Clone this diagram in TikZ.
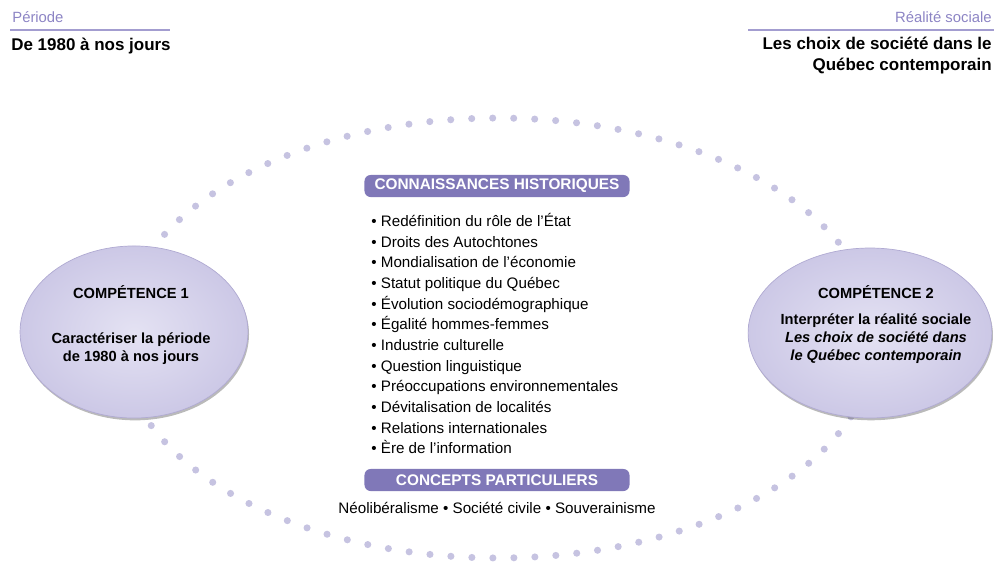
\documentclass[tikz,border=0pt]{standalone}
\usepackage{fontspec}
\setmainfont{Liberation Sans}
\usetikzlibrary{shapes.geometric, shadows}
\definecolor{barpurple}{RGB}{128,120,184}
\definecolor{dotlilac}{RGB}{198,195,225}
\definecolor{headlilac}{RGB}{140,132,196}
\definecolor{ellin}{RGB}{228,226,243}
\definecolor{ellout}{RGB}{204,200,230}
\definecolor{ellrim}{RGB}{176,170,210}

\begin{document}
\begin{tikzpicture}[x=0.566pt, y=-0.566pt]

\tikzset{comp/.style = {shape=ellipse, inner sep=0pt, shading=radial, inner color=ellin, outer color=ellout, draw=ellrim, line width=0.4pt, drop shadow={shadow xshift=0.6pt, shadow yshift=-1.3pt, opacity=0.45, fill=black!60}}}
\tikzset{bar/.style = {rounded corners=3.5pt, fill=barpurple, text=white, font=\fontsize{8.7}{10}\selectfont\bfseries, minimum width=150pt, minimum height=12.5pt, inner sep=0pt}}
\tikzset{ring/.style = {draw=dotlilac, line width=4pt, line cap=round, dash pattern=on 0pt off 11.89pt}}
\tikzset{head/.style = {font=\fontsize{8.4}{10}\selectfont, text=headlilac, inner sep=0pt}}
\tikzset{title/.style = {font=\fontsize{9.6}{11.9}\selectfont\bfseries, inner sep=0pt}}
\tikzset{rule/.style = {draw=headlilac!80, line width=0.8pt}}
\tikzset{comptext/.style = {inner sep=0pt, align=center, anchor=north, font=\fontsize{8.3}{10.2}\selectfont\bfseries}}

\useasboundingbox (0,0) rectangle (994,566);

%ring of dots
\draw[ring] (498,338) ellipse [x radius=213.9pt, y radius=124.5pt];

%headers
\node[head, anchor=base west] (perlab) at (12,22) {Période};
\draw[rule] (10,30) -- (170,30);
\node[title, anchor=base west] (period) at (11,50) {De 1980 à nos jours};
\node[head, anchor=base east] (reallab) at (992,22) {Réalité sociale};
\draw[rule] (748,30) -- (994,30);
\node[title, anchor=north east, align=right] (reality) at (992,37) {Les choix de société dans le\\Québec contemporain};

%competences
\node[comp, minimum width=129pt, minimum height=97.4pt] (comp1) at (134,332) {};
\node[comp, minimum width=138pt, minimum height=96.2pt] (comp2) at (870,333) {};
\node[comptext] (comp1txt) at (131,285) {COMPÉTENCE 1\\[15.3pt]Caractériser la période\\de 1980 à nos jours};
\node[comptext] (comp2txt) at (876,285) {COMPÉTENCE 2\\[4.5pt]Interpréter la réalité sociale\\\textit{Les choix de société dans}\\\textit{le Québec contemporain}};

%knowledge
\node[bar] (histbar) at (497,186) {CONNAISSANCES HISTORIQUES};
\node[anchor=north west, align=left, inner sep=0pt, font=\fontsize{8.6}{11.7}\selectfont] (histlist) at (371,213) {• Redéfinition du rôle de l’État\\
• Droits des Autochtones\\
• Mondialisation de l’économie\\
• Statut politique du Québec\\
• Évolution sociodémographique\\
• Égalité hommes-femmes\\
• Industrie culturelle\\
• Question linguistique\\
• Préoccupations environnementales\\
• Dévitalisation de localités\\
• Relations internationales\\
• Ère de l’information};

%concepts
\node[bar] (concbar) at (497,480) {CONCEPTS PARTICULIERS};
\node[anchor=base, inner sep=0pt, font=\fontsize{8.6}{11.7}\selectfont] (conclist) at (497,513) {Néolibéralisme • Société civile • Souverainisme};
\end{tikzpicture}
\end{document}
